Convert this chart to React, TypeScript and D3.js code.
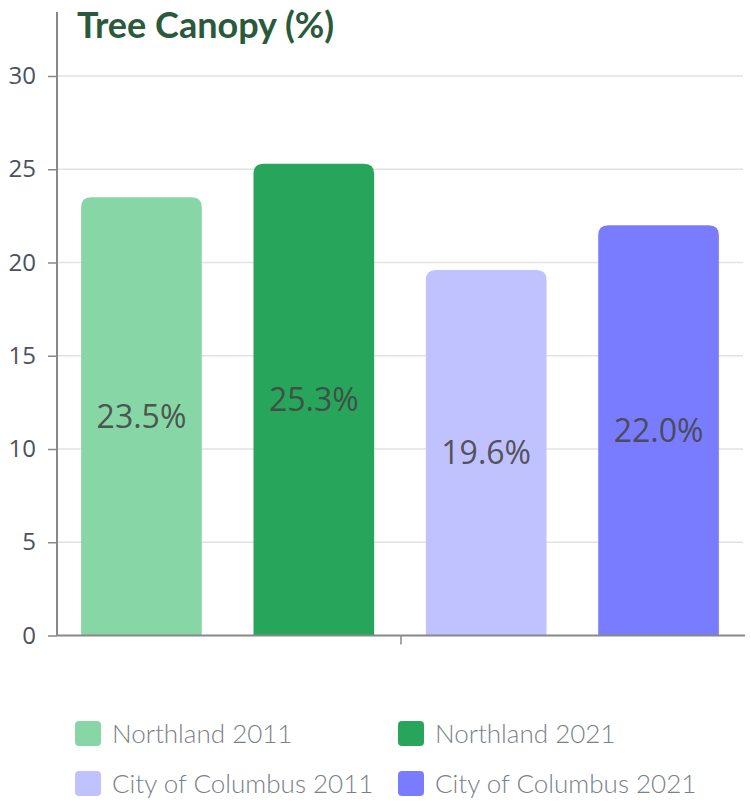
import React, { useRef, useEffect } from 'react';
import { select, scaleBand, scaleLinear, axisLeft } from 'd3';

const categories = ['Northland 2011', 'Northland 2021', 'City of Columbus 2011', 'City of Columbus 2021'];
const values = [23.5, 25.3, 19.6, 22.0];
const colors = ['#86d7a5', '#27a65b', '#c0c1ff', '#7a7cff'];
const yTicks = [0, 5, 10, 15, 20, 25, 30];

const W = 751;
const H = 804;

export default function App() {
    const ref = useRef<SVGSVGElement | null>(null);

    useEffect(() => {
        if (!ref.current) return;
        const svg = select(ref.current);
        svg.selectAll('*').remove();

        const left = 57, right = 745, top = 76, bottom = 635.5;

        const x = scaleBand<string>().domain(categories).range([left, 743]).paddingInner(0.3).paddingOuter(0.14);
        const y = scaleLinear().domain([0, 30]).range([bottom, top]);

        // grid lines
        svg.append('g')
            .selectAll('line')
            .data(yTicks.filter(t => t > 0))
            .join('line')
            .attr('x1', left).attr('x2', 743)
            .attr('y1', d => y(d)).attr('y2', d => y(d))
            .attr('stroke', '#e2e2e2').attr('stroke-width', 1.5);

        // title
        svg.append('text')
            .attr('x', 77).attr('y', 38)
            .style('font-family', 'Lato')
            .style('font-weight', 700)
            .style('font-size', '36px')
            .style('fill', '#2a5a3b')
            .text('Tree Canopy (%)');

        // bars with rounded top corners
        const r = 10;
        svg.append('g')
            .selectAll('path')
            .data(values)
            .join('path')
            .attr('fill', (_, i) => colors[i])
            .attr('d', (d, i) => {
                const x0 = x(categories[i]) as number;
                const x1 = x0 + x.bandwidth();
                const y0 = y(d);
                return `M${x0},${bottom}V${y0 + r}Q${x0},${y0} ${x0 + r},${y0}H${x1 - r}Q${x1},${y0} ${x1},${y0 + r}V${bottom}Z`;
            });

        // value labels
        svg.append('g')
            .selectAll('text')
            .data(values)
            .join('text')
            .attr('x', (_, i) => (x(categories[i]) as number) + x.bandwidth() / 2)
            .attr('y', d => (y(d) + bottom) / 2)
            .attr('dy', '0.35em')
            .attr('text-anchor', 'middle')
            .style('font-family', '"Open Sans"')
            .style('font-size', '32px')
            .style('fill', '#444')
            .style('fill-opacity', 0.9)
            .text(d => `${d.toFixed(1)}%`);

        // y axis
        const yAxis = svg.append('g')
            .attr('transform', `translate(${left},0)`)
            .call(axisLeft(y).tickValues(yTicks).tickSize(9).tickPadding(12));
        yAxis.select('.domain').remove();
        yAxis.selectAll('.tick line').attr('stroke', '#888').attr('stroke-width', 1.5);
        yAxis.selectAll('.tick text')
            .style('font-family', '"Open Sans"')
            .style('font-size', '24px')
            .style('fill', '#4a5260');

        svg.append('line')
            .attr('x1', left).attr('x2', left).attr('y1', 12).attr('y2', bottom)
            .attr('stroke', '#888').attr('stroke-width', 2);
        svg.append('line')
            .attr('x1', left).attr('x2', right).attr('y1', bottom).attr('y2', bottom)
            .attr('stroke', '#888').attr('stroke-width', 2);
        svg.append('line')
            .attr('x1', 401).attr('x2', 401)
            .attr('y1', bottom).attr('y2', bottom + 9)
            .attr('stroke', '#888').attr('stroke-width', 1.5);

        // legend
        const legend = svg.append('g')
            .selectAll('g')
            .data(categories)
            .join('g')
            .attr('transform', (_, i) => `translate(${i % 2 === 0 ? 75 : 398},${i < 2 ? 721 : 771})`);
        legend.append('rect')
            .attr('width', 26).attr('height', 25).attr('rx', 4)
            .attr('fill', (_, i) => colors[i]);
        legend.append('text')
            .attr('x', 37).attr('y', 12.5).attr('dy', '0.35em')
            .style('font-family', 'Lato')
            .style('font-weight', 300)
            .style('font-size', '26px')
            .style('fill', '#7a7f88')
            .text(d => d);
    }, []);

    return (
        <svg ref={ref} width={W} height={H} style={{ position: 'absolute', left: 0, top: 0, background: '#fff' }} />
    );
}
